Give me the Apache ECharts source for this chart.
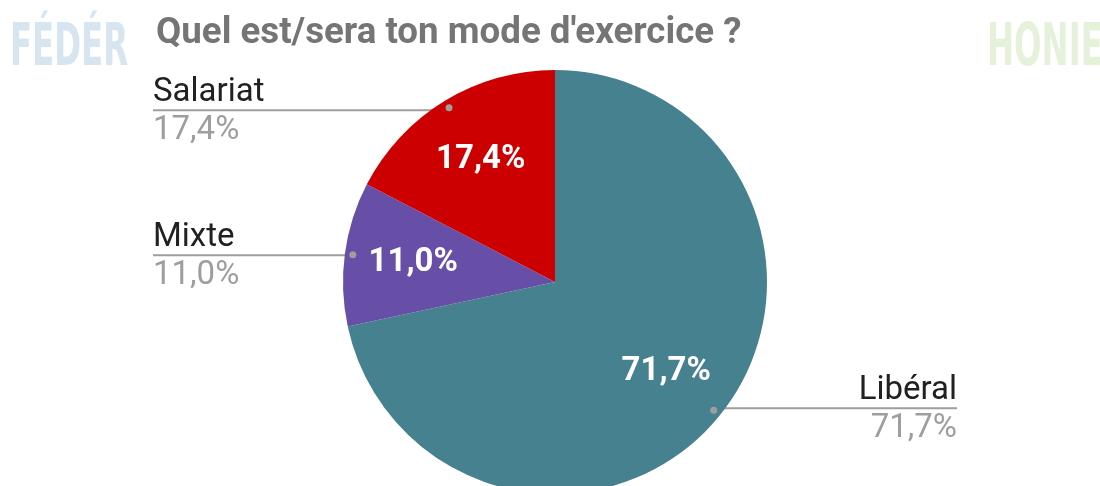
<!DOCTYPE html>
<html>
<head>
<meta charset="utf-8">
<script src="https://cdn.jsdelivr.net/npm/echarts@6/dist/echarts.min.js"></script>
<style>
  html, body { margin: 0; padding: 0; background: #fff; }
  #chart { width: 1100px; height: 486px; }
</style>
</head>
<body>
<div id="chart"></div>
<script>
  // data
  var categories = ["Libéral", "Mixte", "Salariat"];
  var values = [71.7, 11.0, 17.4];
  var colors = ["#45818e", "#674ea7", "#cc0000"];

  var cx = 555, cy = 282, R = 212;

  var data = categories.map(function (name, i) {
    return { name: name, value: values[i], itemStyle: { color: colors[i] } };
  });
  var ghost = categories.map(function (name, i) {
    return { name: name, value: values[i] };
  });

  var fmt = function (v) {
    return v.toFixed(1).replace(".", ",") + "%";
  };

  var total = values.reduce(function (a, b) { return a + b; }, 0);

  // point inside the slice, on its middle angle, where the leader line starts
  var dotPoint = function (i) {
    var cum = 0;
    for (var k = 0; k < i; k++) cum += values[k];
    var a = ((cum + values[i] / 2) / total) * Math.PI * 2;
    return [cx + 0.948 * R * Math.sin(a), cy - 0.948 * R * Math.cos(a)];
  };

  var chart = echarts.init(document.getElementById("chart"));
  var option = {
    animation: false,
    title: {
      text: "Quel est/sera ton mode d'exercice ?",
      left: 151,
      top: 10,
      textStyle: {
        fontFamily: "Roboto",
        fontSize: 36.7,
        fontWeight: "bold",
        color: "#757575"
      }
    },
    graphic: [
      {
        type: "text",
        left: 10,
        top: 21,
        scaleX: 0.62,
        style: {
          text: "FÉDÉR",
          font: "bold 58px 'DejaVu Sans Condensed'",
          fill: "#d6e5f0"
        }
      },
      {
        type: "text",
        left: 987,
        top: 21,
        scaleX: 0.62,
        style: {
          text: "HONIE",
          font: "bold 58px 'DejaVu Sans Condensed'",
          fill: "#e6f1da"
        }
      }
    ],
    series: [
      {
        type: "pie",
        center: [cx, cy],
        radius: [0, R],
        startAngle: 90,
        clockwise: true,
        avoidLabelOverlap: false,
        silent: true,
        data: data,
        label: {
          show: true,
          position: "outside",
          formatter: function (p) {
            return "{n|" + p.name + "}\n{v|" + fmt(p.value) + "}";
          },
          rich: {
            n: { fontFamily: "Roboto", fontSize: 33, color: "#212121", lineHeight: 38 },
            v: { fontFamily: "Roboto", fontSize: 33, color: "#9e9e9e", lineHeight: 38 }
          }
        },
        labelLine: {
          show: true,
          showAbove: true,
          lineStyle: { color: "#9e9e9e", width: 2 }
        },
        labelLayout: function (params) {
          var i = params.dataIndex;
          var d = dotPoint(i);
          var left = d[0] < cx;
          var x = left ? 153 : 957;
          return {
            x: x,
            y: d[1] + 1,
            align: left ? "left" : "right",
            verticalAlign: "middle",
            labelLinePoints: [d, d, [x, d[1]]]
          };
        }
      },
      {
        type: "pie",
        center: [cx, cy],
        radius: [68, R],
        startAngle: 90,
        clockwise: true,
        silent: true,
        itemStyle: { color: "rgba(0,0,0,0)" },
        data: ghost,
        label: {
          show: true,
          position: "inside",
          formatter: function (p) { return fmt(p.value); },
          fontFamily: "Roboto",
          fontSize: 33,
          fontWeight: "bold",
          color: "#ffffff"
        },
        labelLine: { show: false }
      },
      {
        type: "pie",
        center: [cx, cy],
        radius: [190, R],
        startAngle: 90,
        clockwise: true,
        silent: true,
        itemStyle: { color: "rgba(0,0,0,0)" },
        data: ghost,
        label: {
          show: true,
          position: "inside",
          formatter: "{dot| }",
          rich: {
            dot: { width: 7, height: 7, borderRadius: 4, backgroundColor: "#9e9e9e" }
          }
        },
        labelLine: { show: false }
      }
    ]
  };
  chart.setOption(option);
</script>
</body>
</html>
